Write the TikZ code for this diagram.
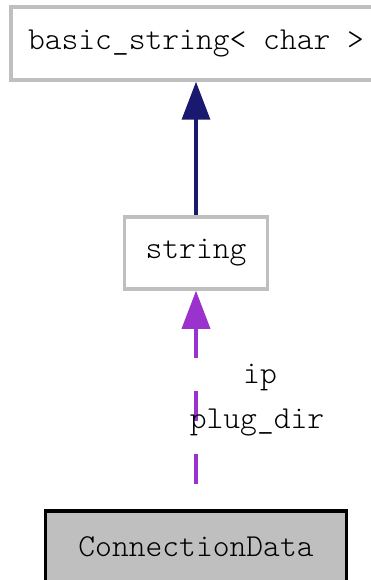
\documentclass[tikz,border=0pt]{standalone}
\usepackage{tikz}
\usetikzlibrary{arrows.meta,positioning}
\definecolor{boxgray}{HTML}{BFBFBF}
\definecolor{navyline}{HTML}{191970}
\definecolor{purpleline}{HTML}{9A32CD}

\begin{document}
\begin{tikzpicture}[x=1pt,y=-1pt,
  txt/.style={font=\fontsize{32}{38}\ttfamily\fontseries{l}\selectfont,inner sep=0pt},
  cls/.style={txt,draw=boxgray,line width=3.5pt,minimum height=72pt},
  main/.style={cls,draw=black,fill=boxgray},
  inherit/.style={navyline,line width=3.5pt,-{Triangle[length=38pt,width=28pt]}},
  usage/.style={purpleline,line width=3.5pt,dash pattern=on 30pt off 33pt,-{Triangle[length=38pt,width=28pt]}}]
 	\useasboundingbox (0,0) rectangle (371,580);
 	% classes
 	\node[cls,minimum width=370pt,minimum height=73pt] (basic) at (196,43.5) {basic\_string< char >};
 	\node[cls,minimum width=143pt] (str) at (196,253) {string};
 	\node[main,minimum width=301pt] (conn) at (196,547) {ConnectionData};
 	% edges
 	\draw[inherit] (str.north) -- (basic.south);
 	\coordinate (tail) at (196,484);
 	\draw[usage] (tail) -- (str.south);
 	\node[txt] (ip) at (260,377) {ip};
 	\node[txt] (plug) at (257,423) {plug\_dir};
\end{tikzpicture}
\end{document}
